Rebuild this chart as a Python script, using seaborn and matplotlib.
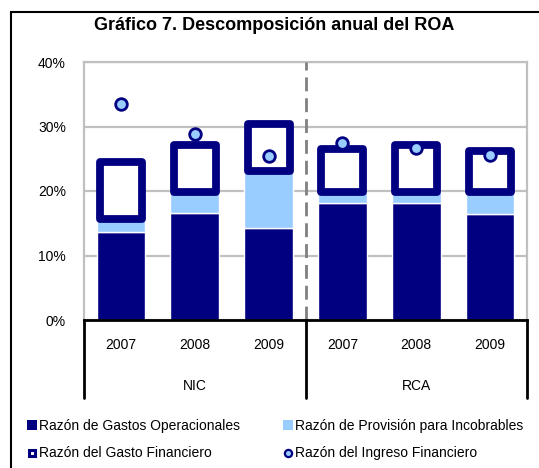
import matplotlib
matplotlib.use("Agg")
import matplotlib.pyplot as plt
import matplotlib.transforms as mtransforms
from matplotlib.patches import Rectangle, Patch
from matplotlib.lines import Line2D
import seaborn as sns
import pandas as pd

# data (percent)
groups = ["NIC", "NIC", "NIC", "RCA", "RCA", "RCA"]
years = ["2007", "2008", "2009", "2007", "2008", "2009"]
gastos_op = [13.7, 16.6, 14.3, 18.1, 18.1, 16.4]
provision = [2.0, 3.2, 8.8, 1.7, 1.7, 3.4]
gasto_fin = [8.8, 7.3, 7.3, 6.7, 7.4, 6.4]
ingreso_fin = [33.5, 28.8, 25.5, 27.5, 26.7, 25.6]
yticks = [0, 10, 20, 30, 40]

navy = "#000080"
light = "#99ccff"
grid_gray = "#c0c0c0"

df = pd.DataFrame({
    "cat": [f"{g} {y}" for g, y in zip(groups, years)],
    "gastos_op": gastos_op,
    "provision": provision,
    "gasto_fin": gasto_fin,
    "ingreso_fin": ingreso_fin,
})
base_prov = df["gastos_op"].values
base_fin = (df["gastos_op"] + df["provision"]).values

sns.set_style("white")
plt.rcParams["font.family"] = ["Liberation Sans", "DejaVu Sans"]
plt.rcParams["text.color"] = "black"
plt.rcParams["xtick.color"] = "black"
plt.rcParams["ytick.color"] = "black"

W, H = 539, 468
fig = plt.figure(figsize=(W / 100, H / 100), dpi=100)
ax = fig.add_axes([84 / W, 1 - 320 / H, (527 - 84) / W, (320 - 62) / H])

sns.barplot(data=df, x="cat", y="gastos_op", color=navy, saturation=1,
            width=0.66, ax=ax, zorder=2)
sns.barplot(data=df, x="cat", y="provision", color=light, saturation=1,
            width=0.66, bottom=base_prov, ax=ax, zorder=2)
sns.barplot(data=df, x="cat", y="gasto_fin", color="white", saturation=1,
            width=0.57, bottom=base_fin, edgecolor=navy, linewidth=5.6,
            joinstyle="round", ax=ax, zorder=3)
sns.scatterplot(data=df, x="cat", y="ingreso_fin", s=70, color=light,
                edgecolor=navy, linewidth=2, ax=ax, zorder=5, legend=False)

ax.set_xlim(-0.5, len(years) - 0.5)
ax.set_ylim(0, 40)
ax.set_yticks(yticks)
ax.set_yticklabels([f"{v}%" for v in yticks], fontsize=10)
ax.set_xticks(range(len(years)))
ax.set_xticklabels(years, fontsize=10)
ax.tick_params(axis="x", length=0, pad=13)
ax.tick_params(axis="y", length=0, pad=13)
ax.set_xlabel("")
ax.set_ylabel("")

ax.yaxis.grid(True, color=grid_gray, lw=1.6, zorder=0)
ax.set_axisbelow(True)
for s in ["left", "top", "right"]:
    ax.spines[s].set_color(grid_gray)
    ax.spines[s].set_linewidth(1.6)
ax.spines["bottom"].set_color("black")
ax.spines["bottom"].set_linewidth(2)
ax.spines["bottom"].set_zorder(6)

# group separator
ax.axvline(2.5, color="#808080", lw=2, ls=(0, (5, 2.5)), zorder=4)
trans = mtransforms.blended_transform_factory(ax.transData, ax.transAxes)
for xv in [-0.5, 2.5, len(years) - 0.5]:
    ax.plot([xv, xv], [0, -0.302], transform=trans, color="black", lw=2,
            clip_on=False, zorder=6)
for g, xc in [("NIC", 1), ("RCA", 4)]:
    ax.text(xc, -0.255, g, transform=trans, ha="center", va="center",
            fontsize=10)

fig.text(274 / W, 1 - 26 / H, "Gráfico 7. Descomposición anual del ROA",
         ha="center", va="center", fontsize=13, fontweight="bold")

# outer frame (cropped on right and bottom)
fig.add_artist(Rectangle((11 / W, -0.1), 2, 1 - 12 / H + 0.1,
                         transform=fig.transFigure, fill=False,
                         edgecolor="black", lw=1.5))

h_op = Patch(facecolor=navy, edgecolor="none")
h_prov = Patch(facecolor=light, edgecolor="none")
h_fin = Line2D([], [], marker="s", ls="none", markersize=4.3,
               markerfacecolor="white", markeredgecolor=navy, markeredgewidth=2.2)
h_ing = Line2D([], [], marker="o", ls="none", markersize=5.2,
               markerfacecolor=light, markeredgecolor=navy, markeredgewidth=1.6)

leg_kw = dict(frameon=False, fontsize=10, handlelength=0.72, handleheight=0.72,
              handletextpad=0.15, labelspacing=0.97, borderpad=0,
              borderaxespad=0, loc="upper left")
fig.legend([h_op, h_fin], ["Razón de Gastos Operacionales",
                           "Razón del Gasto Financiero"],
           bbox_to_anchor=(27 / W, 1 - 419 / H), **leg_kw)
fig.legend([h_prov, h_ing], ["Razón de Provisión para Incobrables",
                             "Razón del Ingreso Financiero"],
           bbox_to_anchor=(283 / W, 1 - 419 / H), **leg_kw)

fig.savefig("out.png", dpi=100)
